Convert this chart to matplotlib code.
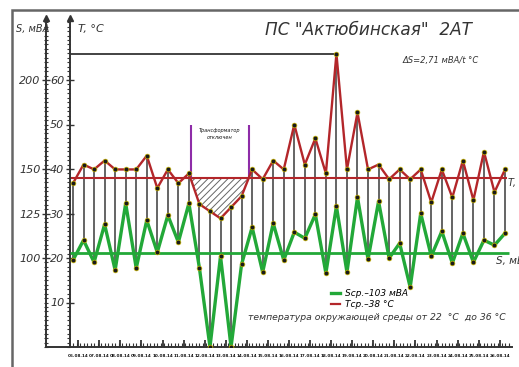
import matplotlib
matplotlib.use('Agg')
import matplotlib.pyplot as plt
from matplotlib.patches import Rectangle
from matplotlib.lines import Line2D
from matplotlib.ticker import MultipleLocator, FixedLocator

#------------------------------DATA---------------------------------------------
# two readings per day (day / night)
days = ['06.08.14', '07.08.14', '08.08.14', '09.08.14', '10.08.14', '11.08.14',
        '12.08.14', '13.08.14', '14.08.14', '15.08.14', '16.08.14', '17.08.14',
        '18.08.14', '19.08.14', '20.08.14', '21.08.14', '22.08.14', '23.08.14',
        '24.08.14', '25.08.14', '26.08.14']

# transformer temperature, °C
t_vals = [36.8, 41.0, 39.9, 41.9, 39.9, 39.9, 39.9, 43.0, 35.7, 39.9, 36.8, 39.0,
          32.1, 30.5, 28.9, 31.4, 33.9, 39.9, 37.7, 41.9, 39.9, 50.0, 41.0, 46.9,
          39.0, 65.9, 39.9, 52.7, 39.9, 41.0, 37.7, 39.9, 37.7, 39.9, 32.5, 39.9,
          33.6, 41.9, 33.0, 43.9, 34.8, 39.9]

# load, MVA
s_vals = [98.8, 110.0, 97.6, 118.9, 93.2, 130.7, 94.3, 121.2, 103.2, 124.0, 108.9, 130.7,
          94.3, 50.0, 101.0, 50.0, 96.5, 117.3, 92.0, 119.5, 98.8, 114.5, 111.1, 124.5,
          91.5, 129.0, 92.0, 134.1, 99.3, 131.8, 99.9, 108.3, 83.6, 125.1, 101.0, 115.0,
          97.1, 113.9, 97.6, 110.0, 107.2, 113.9]

t_avg = 38
s_avg = 103
off_start, off_end = 11.2, 16.7   # transformer switched off
off_top = 50

t_ticks = [10, 20, 30, 40, 50, 60]
s_ticks = [100, 125, 150, 200]

#------------------------------LAYOUT-------------------------------------------
W, H = 519, 367
PX_X = 10.537     # pixels per reading
PX_T = 4.45       # pixels per °C
S0, S_PER_T = 50, 2.5   # S = S0 + S_PER_T * T
S_GAP = 24        # px between S axis and T axis

def fx(x):
    return x / W

def fy(y):
    return 1 - y / H

ink = '#333333'
red = '#b3262a'
green = '#22a838'
plt.rcParams['hatch.linewidth'] = 0.7
plt.rcParams['font.style'] = 'italic'

fig = plt.figure(figsize=(W / 100, H / 100), dpi=100)
ax = fig.add_axes([fx(70), fy(347), (512 - 70) / W, (347 - 18) / H])
ax.set_xlim((70 - 73) / PX_X, (512 - 73) / PX_X)
ax.set_ylim(0, (347 - 18) / PX_T)

ax2 = ax.twinx()
ax2.set_ylim(S0 + S_PER_T * ax.get_ylim()[0], S0 + S_PER_T * ax.get_ylim()[1])

x = list(range(len(t_vals)))
s_as_t = [(s - S0) / S_PER_T for s in s_vals]

#------------------------------MARKS--------------------------------------------
# stems between temperature and load points
ax.vlines(x, s_as_t, t_vals, color='#4a4a4a', lw=1.2, zorder=1)

# max temperature line
i_max = t_vals.index(max(t_vals))
ax.hlines(max(t_vals), ax.get_xlim()[0], i_max, color='#222222', lw=1.2)

# average lines
ax.hlines(t_avg, ax.get_xlim()[0], x[-1] + 0.2, color=red, lw=1.5, zorder=2)
ax2.hlines(s_avg, ax.get_xlim()[0], x[-1] + 0.4, color=green, lw=2.0, zorder=2)

# switched-off area
seg = slice(11, 18)
ax.fill_between(x[seg], t_vals[seg], t_avg, where=[t < t_avg for t in t_vals[seg]],
                interpolate=True, facecolor='none', edgecolor='#666666',
                hatch='/////', lw=0, zorder=1)
ax.vlines([off_start, off_end], t_avg, off_top, color='#8e2ca8', lw=1.5, zorder=3)
ax.text((off_start + off_end) / 2, off_top - 0.8, 'Трансформатор\nотключен',
        ha='center', va='top', fontsize=3.6, color='#111111', linespacing=1.4)

mk = dict(marker='o', ms=3.4, mfc='#1a1a1a', mec='#c8b400', mew=0.5)
ax.plot(x, t_vals, color=red, lw=1.7, zorder=3, **mk)
ax2.plot(x, s_vals, color=green, lw=2.4, zorder=3, **mk)

#------------------------------AXES---------------------------------------------
for a in (ax, ax2):
    for side in ('top', 'right'):
        a.spines[side].set_visible(False)
ax2.spines['bottom'].set_visible(False)
ax2.spines['left'].set_visible(True)
ax2.spines['left'].set_position(('outward', S_GAP * 72 / 100))   # points
ax2.yaxis.set_ticks_position('left')
for sp in (ax.spines['left'], ax.spines['bottom'], ax2.spines['left']):
    sp.set_color(ink)
    sp.set_linewidth(1.4)

ax.yaxis.set_major_locator(FixedLocator(t_ticks))
ax.yaxis.set_minor_locator(MultipleLocator(1))
ax.tick_params(axis='y', which='major', direction='inout', length=6, width=1,
               pad=1, labelsize=8, colors=ink)
ax.tick_params(axis='y', which='minor', direction='out', length=2.5, width=0.8, colors=ink)

ax2.yaxis.set_major_locator(FixedLocator(s_ticks))
ax2.yaxis.set_minor_locator(MultipleLocator(2.5))
ax2.tick_params(axis='y', which='major', direction='inout', length=6, width=1,
                pad=1, labelsize=8, colors=ink)
ax2.tick_params(axis='y', which='minor', direction='inout', length=3, width=0.8, colors=ink)

ax.set_xticks([2 * k + 0.5 for k in range(len(days))])
ax.set_xticklabels(days, fontsize=3.0, fontweight='bold', fontstyle='normal')
ax.xaxis.set_minor_locator(MultipleLocator(1 / 3))
ax.tick_params(axis='x', which='major', direction='in', length=5, width=1.3, pad=5, colors=ink)
ax.tick_params(axis='x', which='minor', direction='in', length=3, width=0.8, colors=ink)
for lab in ax.get_xticklabels():
    lab.set_color('#111111')

# bottom line reaches the S axis
dx_s = -S_GAP / (512 - 70)
ax.plot([dx_s, 0], [0, 0], transform=ax.transAxes, color=ink, lw=1.4, clip_on=False)
# arrow heads
ax.plot([0, dx_s], [1, 1], '^', ms=5, color=ink, transform=ax.transAxes, clip_on=False)

#------------------------------TEXT---------------------------------------------
fig.text(fx(16), fy(29), 'S, мВА', fontsize=7, color=ink, va='center')
fig.text(fx(78), fy(29), 'T, °C', fontsize=8, color=ink, va='center')
fig.text(fx(265), fy(30), 'ПС "Актюбинская"  2АТ', fontsize=12.2, color=ink, va='center')
fig.text(fx(403), fy(60), 'ΔS=2,71 мВА/t °C', fontsize=6, color=ink, va='center')
ax.text(x[-1] + 0.3, t_avg, 'T, °C', fontsize=7, color=ink, va='top')
ax2.text(x[-1] - 0.9, s_avg - 2, 'S, мВА', fontsize=7.5, color=ink, va='top')

handles = [Line2D([], [], color=green, lw=2.4), Line2D([], [], color=red, lw=1.6)]
fig.legend(handles, ['Sср.–103 мВА', 'Tср.–38 °C'], loc='upper left',
           bbox_to_anchor=(fx(331), fy(289)), frameon=False,
           prop={'size': 6.5, 'style': 'italic'}, handlelength=1.0,
           handletextpad=0.5, labelspacing=0.2, borderpad=0, borderaxespad=0)
fig.text(fx(248), fy(317), 'температура окружающей среды от 22  °C  до 36 °C',
         fontsize=6.7, color=ink, va='center')

# drawing frame
fig.add_artist(Rectangle((fx(12), -0.1), 1.2, fy(10) + 0.1, transform=fig.transFigure,
                         fill=False, ec='#666666', lw=1.8))

fig.savefig('out.png', dpi=100)
